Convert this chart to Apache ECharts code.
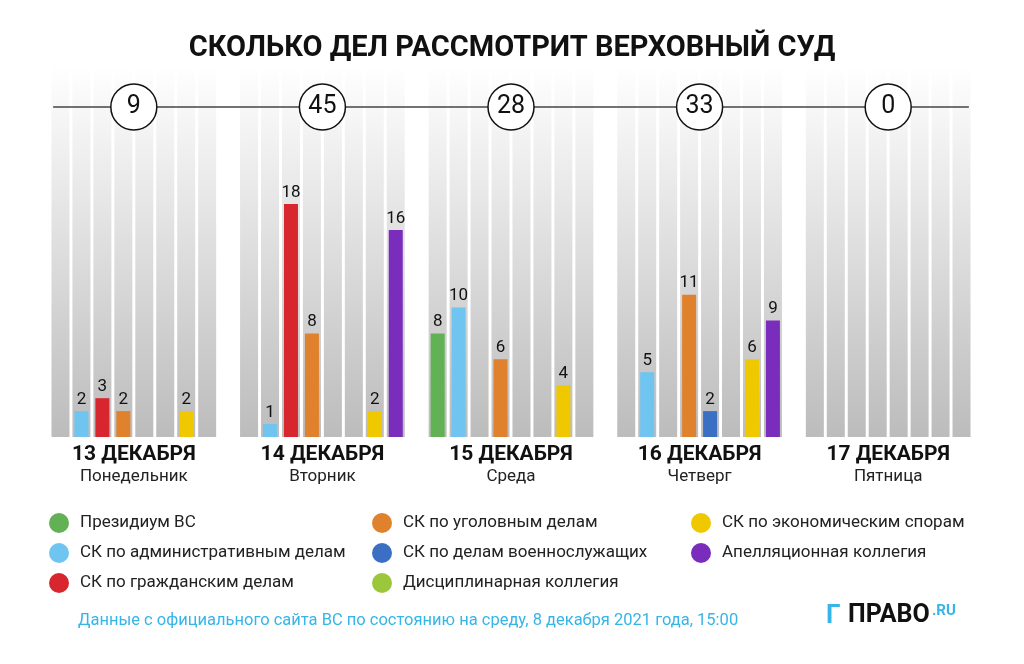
<!DOCTYPE html>
<html><head><meta charset="utf-8">
<script src="https://cdn.jsdelivr.net/npm/echarts@6/dist/echarts.min.js"></script>
<style>html,body{margin:0;padding:0;background:#fff}#c{width:1024px;height:664px}</style>
</head><body><div id="c"></div>
<script>
const days = ['13 ДЕКАБРЯ','14 ДЕКАБРЯ','15 ДЕКАБРЯ','16 ДЕКАБРЯ','17 ДЕКАБРЯ'];
const weekdays = ['Понедельник','Вторник','Среда','Четверг','Пятница'];
const totals = [9,45,28,33,0];
const seriesNames = ['Президиум ВС','СК по административным делам','СК по гражданским делам','СК по уголовным делам','СК по делам военнослужащих','Дисциплинарная коллегия','СК по экономическим спорам','Апелляционная коллегия'];
const presidium = [0,0,8,0,0];
const admin = [2,1,10,5,0];
const civil = [3,18,0,0,0];
const criminal = [2,8,6,11,0];
const military = [0,0,0,2,0];
const disciplinary = [0,0,0,0,0];
const economic = [2,2,4,6,0];
const appeal = [0,16,0,9,0];
const values = [presidium,admin,civil,criminal,military,disciplinary,economic,appeal];
const colors = ['#62b155','#6fc5f0','#d8262f','#e0812d','#3b6fc4','#9cc73c','#f0c800','#7a2dbd'];

const SLOTS = 8, STEP = 9, N = days.length*STEP - 1;
const cats = Array.from({length:N},(_,i)=>String(i));
const YMAX = 28.75, CIRCLE_Y = 25.5;

const series = [];
series.push({type:'bar', xAxisIndex:1, barWidth:18, silent:true, z:1,
  itemStyle:{color:{type:'linear',x:0,y:0,x2:0,y2:1,colorStops:[{offset:0,color:'#ffffff'},{offset:1,color:'#bcbcbc'}]}},
  data: cats.map((_,i)=> (i%STEP)<SLOTS ? YMAX : null)});
values.forEach((arr,k)=>{
  series.push({name:seriesNames[k], type:'bar', stack:'a', barWidth:14, z:3, xAxisIndex:0,
    itemStyle:{color:colors[k]},
    label:{show:true, position:'top', color:'#111', fontSize:17, fontFamily:'Roboto', distance:3},
    data: cats.map((_,i)=>{ const g=Math.floor(i/STEP), s=i%STEP; return (s===k && arr[g]) ? arr[g] : null; })});
});
series.push({type:'line', xAxisIndex:2, silent:true, symbol:'none', z:4, lineStyle:{color:'#444',width:1.5},
  data:[[-0.35,CIRCLE_Y],[N-0.65,CIRCLE_Y]]});
series.push({type:'scatter', xAxisIndex:2, silent:true, z:5, symbolSize:46,
  itemStyle:{color:'#fff', borderColor:'#111', borderWidth:1.5, opacity:1},
  label:{show:true, position:'inside', color:'#111', fontSize:25, fontFamily:'Roboto', formatter:p=>p.value[2]},
  data: totals.map((t,g)=>[g*STEP+3.5, CIRCLE_Y, t])});

const legendCol = (names,left)=>({orient:'vertical', left, top:508, itemGap:10, icon:'circle', itemWidth:20, itemHeight:20,
  textStyle:{fontSize:17, color:'#222', fontFamily:'Roboto', padding:[0,0,0,6]}, selectedMode:false,
  data:names});

const chart = echarts.init(document.getElementById('c'));
chart.setOption({
  animation:false,
  color: colors,
  title:{text:'СКОЛЬКО ДЕЛ РАССМОТРИТ ВЕРХОВНЫЙ СУД', left:'center', top:29,
    textStyle:{fontSize:29, fontWeight:'bold', color:'#111', fontFamily:'Roboto'}},
  legend:[legendCol(seriesNames.slice(0,3),44), legendCol(seriesNames.slice(3,6),367), legendCol(seriesNames.slice(6,8),686)],
  grid:{left:50, right:52, top:65, bottom:227},
  xAxis:[
    {type:'category', data:cats, show:false},
    {type:'category', data:cats, show:false},
    {type:'value', min:-0.5, max:N-0.5, show:false}
  ],
  yAxis:{type:'value', min:0, max:YMAX, show:false},
  series,
  graphic:[
    {type:'text', left:78, top:612, style:{text:'Данные с официального сайта ВС по состоянию на среду, 8 декабря 2021 года, 15:00', fill:'#35b5e8', fontSize:16.5, fontFamily:'Roboto'}},
    {type:'text', left:848, top:603, style:{text:'ПРАВО', fill:'#111', fontSize:25, fontWeight:'bold', fontFamily:'Roboto'}},
    {type:'text', left:932, top:604, style:{text:'.RU', fill:'#35b5e8', fontSize:15, fontWeight:'bold', fontFamily:'Roboto'}},
    {type:'text', left:826, top:603, style:{text:'Г', fill:'#35b5e8', fontSize:26, fontWeight:'bold', fontFamily:'Roboto'}}
  ]
});
const texts = [];
days.forEach((d,g)=>{
  const x = chart.convertToPixel({xAxisIndex:2}, g*STEP+3.5);
  texts.push({type:'text', x, y:444, style:{text:d, align:'center', fill:'#111', fontSize:21, fontWeight:'bold', fontFamily:'Roboto'}});
  texts.push({type:'text', x, y:468, style:{text:weekdays[g], align:'center', fill:'#222', fontSize:17, fontFamily:'Roboto'}});
});
chart.setOption({graphic: chart.getOption().graphic[0].elements.concat(texts)});
</script></body></html>
